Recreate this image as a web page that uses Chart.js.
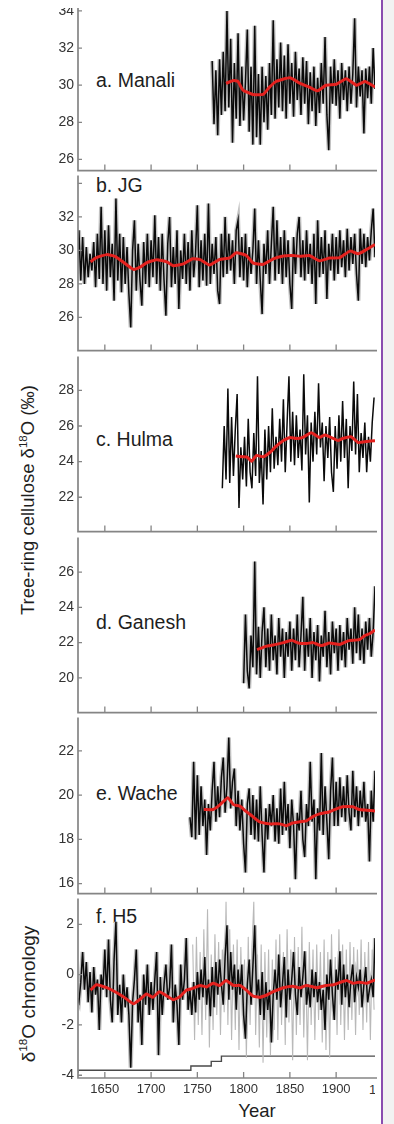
<!DOCTYPE html>
<html>
<head>
<meta charset="utf-8">
<script src="https://cdn.jsdelivr.net/npm/chart.js@4"></script>
<style>
  body { margin: 0; width: 394px; height: 1124px; position: relative; overflow: hidden; background: #fff;
         font-family: "Liberation Sans", Arial, sans-serif; color: #222; }
  .panel { position: absolute; left: 0; }
  .lab { position: absolute; left: 96px; font-size: 19.5px; line-height: 1; color: #1e1e1e; white-space: nowrap; }
  .ytitle { position: absolute; white-space: nowrap; line-height: 1; color: #1e1e1e;
            transform: translate(-50%, -50%) rotate(-90deg); }
  .ytitle sup { font-size: 62%; vertical-align: 0.6em; line-height: 0; }
  #side { position: absolute; left: 383px; top: 0; width: 11px; height: 1124px; background: #f2f2f2; }
  #pline { position: absolute; left: 381px; top: 0; width: 1.6px; height: 1124px; background: #8a4db0; }
  #cover { position: absolute; left: 0; top: 0; width: 381px; height: 8px; background: #fff; }
  #year { position: absolute; left: 257px; top: 1102px; font-size: 18.5px; line-height: 1; transform: translateX(-50%); color: #1e1e1e; }
  #cut { position: absolute; left: 369px; top: 1083px; width: 6px; overflow: hidden; font-size: 13px; line-height: 1; color: #333; }
</style>
</head>
<body>
<div id="side"></div>
<div id="pline"></div>

<div class="lab" style="top:71px">a. Manali</div>
<div class="lab" style="top:176px">b. JG</div>
<div class="lab" style="top:430px">c. Hulma</div>
<div class="lab" style="top:613px">d. Ganesh</div>
<div class="lab" style="top:784px">e. Wache</div>
<div class="lab" style="top:907px">f. H5</div>

<div class="ytitle" style="left:28px; top:500px; font-size:18.5px">Tree-ring cellulose δ<sup>18</sup>O (‰)</div>
<div class="ytitle" style="left:28px; top:994px; font-size:19px">δ<sup>18</sup>O chronology</div>
<div id="year">Year</div>
<div id="cut">1950</div>

<script>
// axe des années
const xMin = 1621;
const xMax = 1942;
const xTicks = [1650, 1700, 1750, 1800, 1850, 1900];

// a. Manali (valeurs tous les 2 ans depuis 1766)
const manaliStart = 1766;
const manaliVals = [31.3, 27.9, 30.8, 27.3, 31.4, 28.4, 31.8, 28.6, 34.0, 28.8, 32.5, 26.9, 31.2, 28.2, 32.8, 27.8,
  31.0, 28.1, 30.2, 33.0, 27.5, 31.0, 26.8, 33.2, 27.2, 30.6, 26.8, 31.0, 28.0, 30.5, 27.6, 31.2, 28.4, 33.5, 28.2,
  31.4, 28.8, 32.3, 28.6, 31.6, 28.2, 32.2, 29.0, 31.2, 28.3, 31.8, 29.2, 30.9, 28.4, 31.5, 29.0, 31.3, 27.9, 30.7,
  28.6, 31.0, 27.8, 30.4, 28.5, 31.2, 29.0, 32.6, 28.4, 26.5, 31.0, 29.0, 31.4, 28.9, 30.8, 28.2, 31.2, 29.2, 30.8,
  28.6, 31.0, 29.0, 30.6, 33.6, 28.8, 31.0, 29.4, 30.8, 27.4, 30.9, 29.3, 31.0, 29.0, 32.0, 29.8];
const manaliRedYears = [1781, 1789, 1794, 1799, 1810, 1821, 1828, 1835, 1850, 1861, 1871, 1880, 1889, 1900, 1911, 1922, 1931, 1942];
const manaliRedVals = [30.1, 30.25, 30.2, 29.75, 29.5, 29.5, 29.9, 30.2, 30.4, 30.1, 29.9, 29.7, 30.0, 30.05, 30.35, 30.0, 30.2, 29.9];
const manaliTicks = [26, 28, 30, 32, 34];

// b. JG (depuis 1620)
const jgStart = 1620;
const jgVals = [28.6, 31.2, 28.2, 30.8, 28.0, 30.2, 28.4, 29.8, 28.8, 30.5, 27.8, 31.0, 28.3, 32.6, 28.0, 31.2,
  27.6, 31.5, 28.4, 30.4, 27.0, 33.1, 28.2, 31.0, 27.5, 30.8, 28.0, 30.2, 27.4, 25.4, 30.0, 31.8, 27.6, 30.4, 28.2,
  26.7, 30.5, 28.0, 31.0, 27.8, 30.6, 28.4, 32.1, 28.0, 30.8, 27.6, 31.0, 28.2, 26.1, 30.4, 32.0, 27.8, 30.2, 28.0,
  31.2, 26.5, 30.0, 28.3, 31.0, 28.0, 30.5, 27.6, 31.2, 28.4, 29.8, 32.7, 27.8, 30.6, 28.2, 31.0, 27.9, 32.8, 28.0,
  30.4, 28.6, 30.8, 27.6, 26.8, 31.0, 28.4, 32.0, 28.6, 31.0, 28.8, 30.6, 28.0, 31.2, 31.8, 28.4, 30.8, 28.2, 31.0,
  27.8, 30.2, 28.6, 30.0, 32.5, 28.0, 30.6, 28.2, 26.2, 30.4, 28.6, 31.2, 28.0, 30.4, 32.6, 28.2, 31.8, 28.6, 30.8,
  28.0, 31.2, 28.4, 30.6, 28.0, 26.5, 30.8, 28.6, 31.0, 32.0, 28.4, 30.6, 28.2, 31.2, 28.6, 30.4, 28.0, 31.0, 26.8,
  31.8, 28.4, 30.8, 28.6, 31.2, 27.1, 30.4, 28.8, 31.0, 28.2, 30.8, 28.6, 31.2, 29.0, 30.6, 28.4, 31.3, 28.8, 30.8,
  29.2, 31.0, 28.6, 27.0, 31.3, 29.2, 31.0, 29.0, 30.8, 29.4, 31.2, 32.5, 29.6];
const jgRedYears = [1634.5, 1641, 1652, 1661, 1670, 1681, 1688, 1695, 1706, 1717, 1724, 1735, 1745, 1753, 1763, 1774,
  1785, 1792, 1803, 1810, 1821, 1832, 1843, 1853, 1861, 1871, 1882, 1893, 1904, 1915, 1924, 1933, 1942];
const jgRedVals = [29.32, 29.57, 29.75, 29.65, 29.3, 28.87, 29.0, 29.26, 29.45, 29.32, 29.09, 29.2, 29.5, 29.45, 29.13,
  29.46, 29.55, 29.86, 29.7, 29.26, 29.17, 29.5, 29.67, 29.7, 29.65, 29.7, 29.38, 29.55, 29.57, 29.96, 29.8, 30.06, 30.35];
const jgTicks = [26, 28, 30, 32, 34];
const jgLabels = [26, 28, 30, 32];

// c. Hulma (depuis 1777)
const hulmaStart = 1777;
const hulmaVals = [22.5, 26.0, 23.0, 28.1, 22.8, 26.5, 23.2, 25.8, 27.8, 21.4, 24.8, 23.0, 25.4, 22.6, 26.4, 23.4,
  22.5, 25.6, 23.2, 28.8, 22.8, 24.6, 21.6, 25.8, 23.0, 26.0, 23.4, 27.0, 23.6, 25.4, 23.8, 26.4, 24.0, 27.5, 23.4,
  26.2, 28.8, 24.0, 26.8, 23.8, 26.6, 24.2, 25.8, 23.5, 28.9, 24.4, 26.6, 21.7, 26.2, 24.0, 26.8, 24.4, 28.4, 24.8,
  26.2, 22.9, 26.0, 24.2, 26.5, 23.4, 22.3, 26.0, 23.6, 26.6, 24.0, 27.4, 24.2, 26.4, 22.5, 26.0, 24.6, 28.5, 24.4,
  27.8, 23.4, 25.6, 24.2, 26.2, 23.4, 25.4, 24.0, 26.2, 27.6];
const hulmaRedYears = [1791.5, 1799, 1804, 1808.5, 1814, 1821, 1828, 1835, 1843, 1850, 1857, 1864, 1873, 1882, 1888,
  1897, 1902, 1907, 1916, 1924, 1933, 1942];
const hulmaRedVals = [24.31, 24.27, 24.25, 24.02, 24.35, 24.27, 24.5, 24.85, 25.18, 25.36, 25.3, 25.36, 25.62, 25.36,
  25.5, 25.3, 25.18, 25.3, 25.4, 25.07, 25.13, 25.18];
const hulmaTicks = [22, 24, 26, 28];

// d. Ganesh (depuis 1800)
const ganeshStart = 1800;
const ganeshVals = [19.7, 23.6, 20.4, 19.4, 22.4, 20.6, 26.6, 20.2, 22.9, 20.0, 22.6, 24.0, 20.6, 22.8, 20.4, 23.6,
  21.0, 22.4, 20.2, 23.4, 21.2, 22.8, 20.0, 22.6, 21.2, 23.2, 20.4, 22.8, 21.0, 23.6, 20.6, 22.4, 24.6, 20.4, 22.8,
  21.2, 23.4, 20.0, 22.6, 21.0, 23.0, 19.8, 22.4, 21.2, 23.8, 20.6, 22.6, 20.2, 23.2, 21.4, 22.8, 20.4, 23.0, 21.0,
  22.6, 20.6, 23.4, 21.6, 22.8, 20.8, 24.0, 21.4, 23.6, 21.0, 22.8, 20.8, 23.2, 21.6, 23.4, 21.2, 22.6, 25.2];
const ganeshRedYears = [1814.5, 1825, 1835, 1843, 1852, 1859, 1868, 1875, 1884, 1893, 1904, 1913, 1925, 1931, 1936, 1942];
const ganeshRedVals = [21.6, 21.8, 21.9, 22.0, 22.13, 21.98, 21.95, 22.0, 21.83, 21.98, 21.9, 22.1, 22.17, 22.4, 22.5, 22.72];
const ganeshTicks = [20, 22, 24, 26];

// e. Wache (depuis 1742)
const wacheStart = 1742;
const wacheVals = [19.0, 18.1, 21.5, 18.0, 20.9, 18.2, 20.4, 18.6, 19.8, 17.3, 19.6, 18.4, 20.2, 21.5, 18.8, 20.4,
  19.0, 20.8, 21.7, 19.2, 20.4, 22.6, 19.4, 20.6, 21.2, 18.6, 20.2, 18.4, 19.8, 17.8, 16.5, 19.6, 20.3, 18.2, 20.0,
  18.0, 19.8, 17.9, 20.4, 18.2, 16.5, 19.4, 18.0, 19.6, 18.6, 20.0, 17.9, 19.4, 17.8, 20.3, 18.2, 20.6, 18.4, 19.6,
  17.6, 19.8, 18.6, 16.2, 19.2, 18.4, 20.2, 18.0, 17.2, 19.6, 18.6, 21.5, 18.8, 19.8, 16.2, 19.4, 18.4, 21.9, 18.2,
  20.4, 18.8, 17.1, 20.2, 21.7, 18.6, 20.6, 18.6, 20.8, 19.0, 20.4, 18.8, 20.9, 19.2, 18.4, 21.1, 19.0, 20.4, 18.6,
  20.2, 19.0, 20.6, 18.8, 19.6, 17.0, 20.2, 18.8, 21.1];
const wacheRedYears = [1757, 1767, 1774, 1783, 1789, 1796, 1803, 1810, 1817, 1828, 1839, 1846, 1853, 1861, 1868, 1875,
  1882, 1893, 1900, 1907, 1918, 1925, 1933, 1942];
const wacheRedVals = [19.35, 19.35, 19.55, 19.88, 19.57, 19.5, 19.25, 19.03, 18.8, 18.7, 18.7, 18.62, 18.74, 18.8, 18.84,
  19.03, 19.15, 19.25, 19.37, 19.47, 19.47, 19.35, 19.32, 19.28];
const wacheTicks = [16, 18, 20, 22];

// f. H5 (depuis 1620)
const h5Start = 1620;
const h5Vals = [-0.9, -1.1, -0.3, 0.9, -0.6, 0.5, -1.1, 0.1, -1.5, 0.3, -0.8, -0.2, -2.2, 0.0, -0.6, 1.0, -0.9, 1.4,
  -1.0, -1.9, 0.6, 2.1, -1.6, -0.4, -1.9, 0.0, -1.3, -0.5, -1.6, -3.7, -1.1, -0.2, 1.0, -1.9, -0.8, -2.8, 0.0, -1.2,
  0.4, -1.6, -0.3, -1.4, -0.2, 0.9, -3.2, -0.1, -1.6, -0.4, 0.4, -1.0, -0.5, 1.2, -1.9, -0.4, -1.2, -2.8, 0.4, -1.0,
  -0.2, 1.45, -1.4, -0.6, -1.6, -0.3, -1.5, 0.1, -1.0, 0.2, -0.9, 0.7, -1.2, -0.2, -1.65, 0.3, -1.3, 0.5, -0.8, 0.6,
  -0.4, -1.2, 0.7, 1.96, -1.0, 0.9, -0.6, 0.4, -1.4, 0.2, -0.8, 0.4, -1.6, -2.55, -0.4, 0.6, -1.2, 0.3, 1.96, -0.9,
  -0.2, -1.6, 0.1, -1.8, -0.3, -1.4, -0.6, -2.7, -0.8, 0.2, -1.0, 0.8, -1.3, -0.4, 0.7, -1.7, 0.2, -1.0, -0.2, 0.9,
  -0.8, -1.6, 0.3, -0.9, -0.1, 0.93, -1.2, -0.4, -1.3, 0.2, -0.9, 0.1, -1.1, -0.3, -1.4, -0.6, -2.2, 0.0, -1.0, 0.6,
  -0.8, -1.8, 0.2, -0.6, 0.93, -1.2, 0.4, -0.9, 0.0, -1.3, -0.2, 0.4, -1.1, -0.1, -0.5, 0.2, -1.3, -0.4, 0.3, -1.1,
  -0.6, -0.2, -0.9, 1.45];
// série grise (années impaires depuis 1745)
const h5GreyStart = 1745;
const h5GreyVals = [1.2, -2.6, 1.5, -2.0, 0.9, -2.4, 1.8, -1.8, 2.6, -2.9, 0.8, -2.2, 1.6, -1.6, 1.3, -2.4, 1.0, -1.5,
  2.9, -2.0, 1.8, -2.6, 1.2, -2.2, 1.4, -3.0, 1.1, -1.8, 0.6, -3.3, 1.5, -2.0, 1.0, 2.9, -2.4, 0.8, -2.9, 1.2, -3.5,
  0.9, -2.5, 1.0, -3.2, 0.6, -2.2, 1.4, -2.6, 1.6, -2.0, 0.9, -2.8, 1.8, -1.9, 1.0, -3.4, 1.5, -2.4, 1.1, -2.0, 1.9,
  -2.5, 0.8, -3.4, 1.3, -2.0, 1.0, -2.6, 1.2, -1.8, 0.9, -2.7, 1.4, -3.0, 0.9, -3.3, 1.6, -1.8, 0.7, -2.4, 1.8, -2.0,
  1.2, -2.6, 1.0, -2.2, 1.3, -1.8, 1.1, -2.4, 1.0, -1.6, 1.4, -2.2, 0.9, -1.9, 1.3, -2.6, 1.0, -1.4];
const h5RedYears = [1634.5, 1641, 1652, 1661, 1670, 1681, 1688, 1695, 1702, 1709, 1717, 1724, 1731, 1738, 1745, 1753,
  1760, 1767, 1774, 1781, 1789, 1796, 1803, 1810, 1817, 1825, 1832, 1843, 1853, 1861, 1868, 1879, 1889, 1897, 1911,
  1918, 1925, 1933, 1942];
const h5RedVals = [-0.62, -0.4, -0.52, -0.68, -0.88, -1.16, -0.98, -0.77, -0.9, -0.68, -0.85, -1.0, -0.88, -0.62, -0.55,
  -0.43, -0.49, -0.34, -0.43, -0.23, -0.43, -0.43, -0.62, -0.85, -0.9, -0.81, -0.68, -0.52, -0.46, -0.53, -0.43, -0.52,
  -0.43, -0.4, -0.23, -0.34, -0.3, -0.34, -0.21];
// nombre d'échantillons (marches en bas)
const depthYears = [1621, 1743, 1765, 1776, 1801, 1942];
const depthVals = [-3.9, -3.8, -3.63, -3.45, -3.24, -3.24];
const h5Ticks = [-4, -2, 0, 2];

const FONT = '"Liberation Sans", Arial, sans-serif';

function pts(start, step, vals) {
  return vals.map((v, i) => ({ x: start + i * step, y: v }));
}
function pairs(years, vals) {
  return years.map((yr, i) => ({ x: yr, y: vals[i] }));
}

// cadre : axes gris + graduations vers l'intérieur
function framePlugin(ticks) {
  return {
    id: 'frame',
    afterDatasetsDraw(chart) {
      const { ctx, chartArea: a, scales: { x, y } } = chart;
      ctx.save();
      ctx.strokeStyle = '#858585';
      ctx.lineWidth = 1.7;
      ctx.beginPath();
      ctx.moveTo(a.left, a.top);
      ctx.lineTo(a.left, a.bottom);
      ctx.lineTo(a.right + 2, a.bottom);
      ctx.stroke();
      ctx.lineWidth = 1.3;
      ctx.beginPath();
      xTicks.forEach(t => {
        const px = x.getPixelForValue(t);
        ctx.moveTo(px, a.bottom);
        ctx.lineTo(px, a.bottom - 6);
      });
      ticks.forEach(t => {
        const py = y.getPixelForValue(t);
        ctx.moveTo(a.left, py);
        ctx.lineTo(a.left + 4, py);
      });
      ctx.stroke();
      ctx.restore();
    }
  };
}

function makePanel(p) {
  const pad = 10;
  const div = document.createElement('div');
  div.className = 'panel';
  const canvasTop = p.top - pad;
  const h = p.last ? 1124 - canvasTop : (p.bottom - p.top) + 2 * pad;
  div.style.top = canvasTop + 'px';
  const cv = document.createElement('canvas');
  cv.width = 380;
  cv.height = h;
  div.appendChild(cv);
  document.body.insertBefore(div, document.getElementById('cover'));

  const datasets = [];
  datasets.push({ data: p.red, borderColor: '#e4211e', borderWidth: 3, pointRadius: 0, tension: 0.15 });
  datasets.push({ data: p.black, borderColor: '#0a0a0a', borderWidth: 1.5, pointRadius: 0 });
  if (p.halo) datasets.push({ data: p.black, borderColor: '#c2c2c2', borderWidth: 4.2, pointRadius: 0 });
  if (p.grey) datasets.push({ data: p.grey, borderColor: '#b9b9b9', borderWidth: 1.1, pointRadius: 0 });
  if (p.depth) datasets.push({ data: p.depth, borderColor: '#4a4a4a', borderWidth: 1.4, pointRadius: 0, stepped: 'after' });

  new Chart(cv, {
    type: 'line',
    data: { datasets },
    options: {
      responsive: false,
      animation: false,
      layout: { padding: { top: pad, bottom: p.last ? 0 : pad, left: 0, right: 5 } },
      plugins: { legend: { display: false }, tooltip: { enabled: false } },
      scales: {
        x: {
          type: 'linear', min: xMin, max: xMax,
          display: !!p.last,
          afterFit: s => { if (p.last) s.height = 1124 - p.bottom; },
          afterBuildTicks: s => { s.ticks = xTicks.map(v => ({ value: v })); },
          grid: { display: false, drawTicks: false },
          border: { display: false },
          ticks: { padding: 4, maxRotation: 0, color: '#333', font: { family: FONT, size: 13 }, callback: v => String(v) }
        },
        y: {
          type: 'linear', min: p.min, max: p.max,
          afterFit: s => { s.width = 78; },
          afterBuildTicks: s => { s.ticks = p.ticks.map(v => ({ value: v })); },
          grid: { display: false, drawTicks: false },
          border: { display: false },
          ticks: {
            padding: 4, color: '#333', font: { family: FONT, size: 14 },
            callback: v => (p.labels.includes(v) ? String(v) : '')
          }
        }
      }
    },
    plugins: [framePlugin(p.ticks)]
  });
}

const cover = document.createElement('div');
cover.id = 'cover';
document.body.appendChild(cover);

makePanel({ top: -10, bottom: 173, min: 25.4, max: 35.0, ticks: manaliTicks, labels: manaliTicks,
  black: pts(manaliStart, 2, manaliVals), red: pairs(manaliRedYears, manaliRedVals), halo: true });
makePanel({ top: 173, bottom: 353, min: 24.02, max: 34.48, ticks: jgTicks, labels: jgLabels,
  black: pts(jgStart, 2, jgVals), red: pairs(jgRedYears, jgRedVals), halo: true });
makePanel({ top: 354, bottom: 534, min: 20.07, max: 29.91, ticks: hulmaTicks, labels: hulmaTicks,
  black: pts(hulmaStart, 2, hulmaVals), red: pairs(hulmaRedYears, hulmaRedVals), halo: false });
makePanel({ top: 535, bottom: 715, min: 18.03, max: 27.97, ticks: ganeshTicks, labels: ganeshTicks,
  black: pts(ganeshStart, 2, ganeshVals), red: pairs(ganeshRedYears, ganeshRedVals), halo: true });
makePanel({ top: 715, bottom: 896, min: 15.55, max: 23.51, ticks: wacheTicks, labels: wacheTicks,
  black: pts(wacheStart, 2, wacheVals), red: pairs(wacheRedYears, wacheRedVals), halo: true });
makePanel({ top: 896, bottom: 1078, min: -4.11, max: 3.03, ticks: h5Ticks, labels: h5Ticks, last: true,
  black: pts(h5Start, 2, h5Vals), red: pairs(h5RedYears, h5RedVals), halo: true,
  grey: pts(h5GreyStart, 2, h5GreyVals), depth: pairs(depthYears, depthVals) });
</script>
</body>
</html>
